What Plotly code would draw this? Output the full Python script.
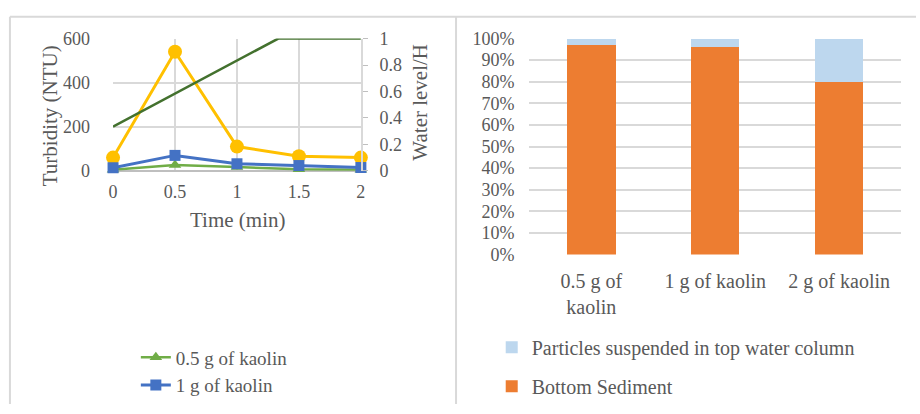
import plotly.graph_objects as go

W, H = 920, 414


def fx(p):
    return p / W


def fy(p):
    return 1 - p / H


# Turbidity over time for each kaolin dose
time_min = [0, 0.5, 1, 1.5, 2]
turb_05g = [5, 27, 17, 7, 5]
turb_1g = [14, 70, 32, 24, 15]
turb_2g = [60, 540, 110, 66, 60]

# Relative water level
level_time = [0, 4 / 3, 2]
level_h = [1 / 3, 1, 1]

# Particle distribution after settling
doses = ["0.5 g of<br>kaolin", "1 g of kaolin", "2 g of kaolin"]
bottom_sediment = [0.97, 0.96, 0.80]
suspended_top = [0.03, 0.04, 0.20]

FONT = "Liberation Serif"
TXT = "#595959"
GRID = "#D9D9D9"


def font(size):
    return dict(family=FONT, size=size, color=TXT)


fig = go.Figure()

fig.add_trace(go.Scatter(
    x=time_min, y=turb_2g, name="2 g of kaolin", mode="lines+markers",
    line=dict(color="#FFC000", width=3),
    marker=dict(symbol="circle", size=14, color="#FFC000"),
    xaxis="x", yaxis="y", showlegend=False, cliponaxis=False))
fig.add_trace(go.Scatter(
    x=time_min, y=turb_05g, name="0.5 g of kaolin", mode="lines+markers",
    line=dict(color="#70AD47", width=2.5),
    marker=dict(symbol="triangle-up", size=11, color="#70AD47"),
    xaxis="x", yaxis="y", legend="legend", cliponaxis=False))
fig.add_trace(go.Scatter(
    x=time_min, y=turb_1g, name="1 g of kaolin", mode="lines+markers",
    line=dict(color="#4472C4", width=3),
    marker=dict(symbol="square", size=11, color="#4472C4"),
    xaxis="x", yaxis="y", legend="legend", cliponaxis=False))
fig.add_trace(go.Scatter(
    x=level_time, y=level_h, name="Water level", mode="lines",
    line=dict(color="#43712E", width=2.5),
    xaxis="x", yaxis="y2", showlegend=False, cliponaxis=False))

fig.add_trace(go.Bar(
    x=doses, y=bottom_sediment, name="Bottom Sediment",
    marker=dict(color="#ED7D31", line=dict(width=0)), width=0.39,
    xaxis="x2", yaxis="y3", legend="legend2", legendgroup="bottom",
    legendrank=2))
fig.add_trace(go.Bar(
    x=doses, y=suspended_top, name="Particles suspended in top water column",
    marker=dict(color="#BDD7EE", line=dict(width=0)), width=0.39,
    xaxis="x2", yaxis="y3", legend="legend2", legendgroup="top",
    legendrank=1))

fig.update_layout(
    width=W, height=H,
    margin=dict(l=0, r=0, t=0, b=0),
    paper_bgcolor="white", plot_bgcolor="white",
    font=font(18),
    barmode="stack",
    xaxis=dict(
        domain=[fx(110), fx(360)], range=[0, 2], tickvals=time_min,
        ticktext=["0", "0.5", "1", "1.5", "2"],
        showgrid=True, gridcolor=GRID, gridwidth=2,
        showline=False, zeroline=False, ticks="", ticklabelstandoff=8,
        tickfont=font(18), anchor="y", fixedrange=True),
    yaxis=dict(
        domain=[fy(169), fy(30)], range=[0, 600], tickvals=[0, 200, 400, 600],
        ticktext=["0", "200", "400", "600"],
        showgrid=True, gridcolor=GRID, gridwidth=2,
        zeroline=True, zerolinecolor="#BFBFBF", zerolinewidth=2,
        showline=False, ticks="", ticklabelstandoff=22,
        tickfont=font(18), anchor="x"),
    yaxis2=dict(
        overlaying="y", side="right", anchor="x", range=[0, 1],
        tickvals=[0, 0.2, 0.4, 0.6, 0.8, 1],
        ticktext=["0", "0.2", "0.4", "0.6", "0.8", "1"],
        showgrid=False, zeroline=False,
        showline=True, linecolor=GRID, linewidth=2,
        ticks="outside", ticklen=5, tickcolor="#BFBFBF", tickwidth=1,
        ticklabelstandoff=8, tickfont=font(18)),
    xaxis2=dict(
        domain=[fx(530), fx(905)], type="category", anchor="y3",
        showgrid=False, showline=False, zeroline=False, ticks="",
        ticklabelstandoff=12, tickfont=font(20)),
    yaxis3=dict(
        domain=[fy(257), fy(30)], range=[0, 1], anchor="x2",
        tickvals=[i / 10 for i in range(11)],
        ticktext=[f"{i * 10}%" for i in range(11)],
        showgrid=True, gridcolor=GRID, gridwidth=2,
        zeroline=False, showline=False, ticks="", ticklabelstandoff=14,
        tickfont=font(18)),
    legend=dict(
        x=fx(133), y=fy(345), xanchor="left", yanchor="top",
        font=font(19), bgcolor="rgba(0,0,0,0)", tracegroupgap=0),
    legend2=dict(
        x=fx(492), y=fy(334), xanchor="left", yanchor="top",
        font=font(20), bgcolor="rgba(0,0,0,0)", traceorder="grouped",
        tracegroupgap=10, itemwidth=30),
    annotations=[
        dict(text="Turbidity (NTU)", x=fx(46), y=fy(111), xref="paper", yref="paper",
             xanchor="center", yanchor="middle",
             textangle=-90, showarrow=False, font=font(21)),
        dict(text="Water level/H", x=fx(420), y=fy(97), xref="paper", yref="paper",
             xanchor="center", yanchor="middle",
             textangle=-90, showarrow=False, font=font(21)),
        dict(text="Time (min)", x=fx(236), y=fy(221), xref="paper", yref="paper",
             xanchor="center", yanchor="middle",
             showarrow=False, font=font(21)),
    ],
    shapes=[
        dict(type="line", xref="paper", yref="paper", x0=fx(6), x1=1, y0=fy(7), y1=fy(7),
             line=dict(color=GRID, width=2)),
        dict(type="line", xref="paper", yref="paper", x0=fx(6), x1=fx(6), y0=fy(7), y1=0,
             line=dict(color=GRID, width=2)),
        dict(type="line", xref="paper", yref="paper", x0=fx(456), x1=fx(456), y0=fy(7), y1=0,
             line=dict(color=GRID, width=2)),
    ],
)

fig.write_html("out.html")
